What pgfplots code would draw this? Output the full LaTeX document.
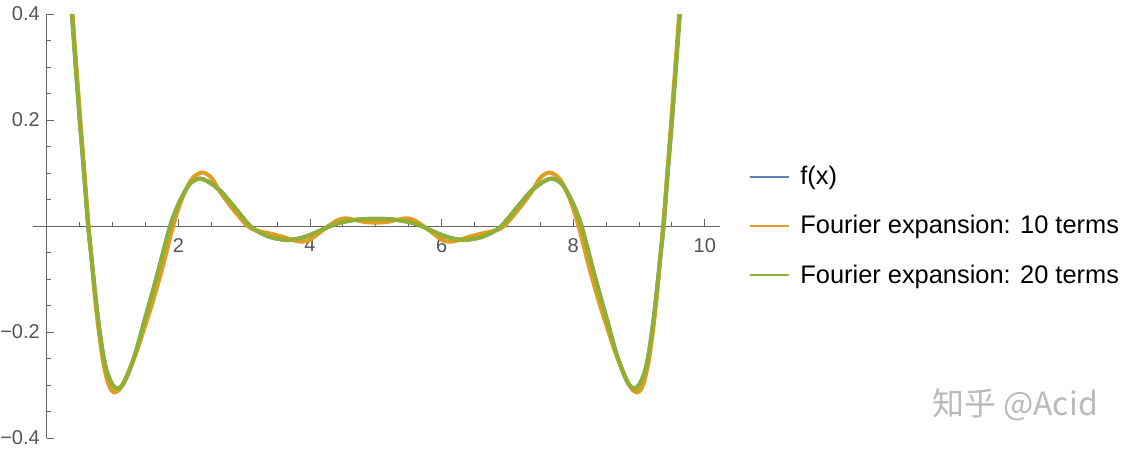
\documentclass[border=0pt]{standalone}
\usepackage{pgfplots}
\pgfplotsset{compat=1.18}
\usepackage{pgfplotstable}
\usepackage{fontspec}
\setmainfont{Liberation Sans}
\newfontfamily\cjk{Noto Sans CJK SC}

\definecolor{fblue}{rgb}{0.368,0.507,0.710}
\definecolor{forange}{rgb}{0.881,0.611,0.142}
\definecolor{fgreen}{rgb}{0.560,0.692,0.195}
\definecolor{axgray}{gray}{0.40}
\definecolor{labgray}{gray}{0.33}

% 20-term expansion (f(x) lies under it)
\pgfplotstableread{
x y
0.32 0.505
0.381 0.40
0.44 0.30
0.50 0.20
0.565 0.10
0.628 0
0.67 -0.05
0.72 -0.11
0.776 -0.173
0.847 -0.236
0.913 -0.275
1.0 -0.300
1.08 -0.307
1.16 -0.298
1.25 -0.274
1.35 -0.239
1.49 -0.176
1.57 -0.141
1.70 -0.082
1.875 0
2.01 0.044
2.15 0.076
2.24 0.086
2.33 0.0895
2.45 0.084
2.64 0.066
2.84 0.037
3.09 0
3.25 -0.013
3.40 -0.021
3.55 -0.025
3.67 -0.0265
3.85 -0.023
4.00 -0.017
4.15 -0.009
4.31 0
4.50 0.0075
4.75 0.0125
5.00 0.0135
5.25 0.0125
5.50 0.0075
5.69 0
5.85 -0.009
6.00 -0.017
6.15 -0.023
6.33 -0.0265
6.45 -0.025
6.60 -0.021
6.75 -0.013
6.91 0
7.16 0.037
7.36 0.066
7.55 0.084
7.67 0.0895
7.76 0.086
7.85 0.076
7.99 0.044
8.125 0
8.30 -0.082
8.43 -0.141
8.51 -0.176
8.65 -0.239
8.75 -0.274
8.84 -0.298
8.92 -0.307
9.0 -0.300
9.087 -0.275
9.153 -0.236
9.224 -0.173
9.28 -0.11
9.33 -0.05
9.372 0
9.435 0.10
9.50 0.20
9.56 0.30
9.619 0.40
9.68 0.505
}\twentyterms

% 10-term expansion
\pgfplotstableread{
x y
0.33 0.50
0.39 0.40
0.45 0.30
0.51 0.20
0.572 0.10
0.635 0
0.675 -0.055
0.72 -0.12
0.776 -0.185
0.847 -0.25
0.913 -0.289
0.97 -0.308
1.03 -0.314
1.10 -0.309
1.18 -0.293
1.27 -0.266
1.37 -0.235
1.50 -0.186
1.60 -0.147
1.75 -0.082
1.92 0
2.05 0.05
2.20 0.088
2.357 0.101
2.50 0.091
2.64 0.063
2.84 0.030
3.05 0
3.20 -0.009
3.40 -0.0145
3.60 -0.021
3.78 -0.028
3.90 -0.0295
4.00 -0.026
4.14 -0.013
4.28 0
4.42 0.011
4.53 0.0146
4.68 0.0115
4.84 0.0075
5.00 0.0064
5.16 0.0075
5.32 0.0115
5.47 0.0146
5.58 0.011
5.72 0
5.86 -0.013
6.00 -0.026
6.10 -0.0295
6.22 -0.028
6.40 -0.021
6.60 -0.0145
6.80 -0.009
6.95 0
7.16 0.030
7.36 0.063
7.50 0.091
7.643 0.101
7.80 0.088
7.95 0.05
8.08 0
8.25 -0.082
8.40 -0.147
8.50 -0.186
8.63 -0.235
8.73 -0.266
8.82 -0.293
8.90 -0.309
8.97 -0.314
9.03 -0.308
9.087 -0.289
9.153 -0.25
9.224 -0.185
9.28 -0.12
9.325 -0.055
9.365 0
9.428 0.10
9.49 0.20
9.55 0.30
9.61 0.40
9.67 0.50
}\tenterms

\begin{document}
\begin{tikzpicture}
\begin{axis}[
    name=ax,
    scale only axis,
    width=343.5pt, height=212pt,
    axis lines=middle,
    axis line style={-, draw=axgray, line width=0.5pt},
    xmin=-0.21, xmax=10.23,
    ymin=-0.4, ymax=0.4,
    xtick={2,4,6,8,10},
    xticklabels={2,4,6,8,10},
    minor xtick={0.5,1,1.5,2.5,3,3.5,4.5,5,5.5,6.5,7,7.5,8.5,9,9.5},
    ytick={-0.4,-0.2,0.2,0.4},
    yticklabels={−0.4,−0.2,0.2,0.4},
    minor ytick={-0.35,-0.3,-0.25,-0.15,-0.1,-0.05,0.05,0.1,0.15,0.25,0.3,0.35},
    tick align=inside,
    major tick length=3.6pt, minor tick length=2.2pt,
    tick style={draw=axgray, line width=0.5pt},
    ticklabel style={font=\fontsize{10}{12}\selectfont, text=labgray},
    xticklabel style={yshift=-2.5pt},
    every axis plot/.append style={line width=2pt, line join=round, line cap=round},
    legend style={at={(1,0.5)}, anchor=west, xshift=14.5pt,
        draw=none, fill=none, inner sep=0pt,
        row sep=10pt, column sep=3.5pt,
        font=\fontsize{12.7}{14}\selectfont},
    legend cell align=left,
    legend image code/.code={\draw[#1, line width=1pt] (0pt,0pt) -- (19pt,0pt);},
]
\addplot[fblue, smooth] table {\twentyterms};
\addlegendentry{f(x)}
\addplot[forange, smooth] table {\tenterms};
\addlegendentry{Fourier expansion: 10 terms}
\addplot[fgreen, smooth] table {\twentyterms};
\addlegendentry{Fourier expansion: 20 terms}
\end{axis}
\node[text=black!27, font=\cjk\fontsize{16}{18}\selectfont]
    at ([shift={(491pt,16.5pt)}]ax.south west) {知乎 @Acid};
\pgfresetboundingbox
\path ([shift={(-16.5pt,-7pt)}]ax.south west) rectangle ([shift={(207pt,7pt)}]ax.north east);
\end{tikzpicture}
\end{document}
